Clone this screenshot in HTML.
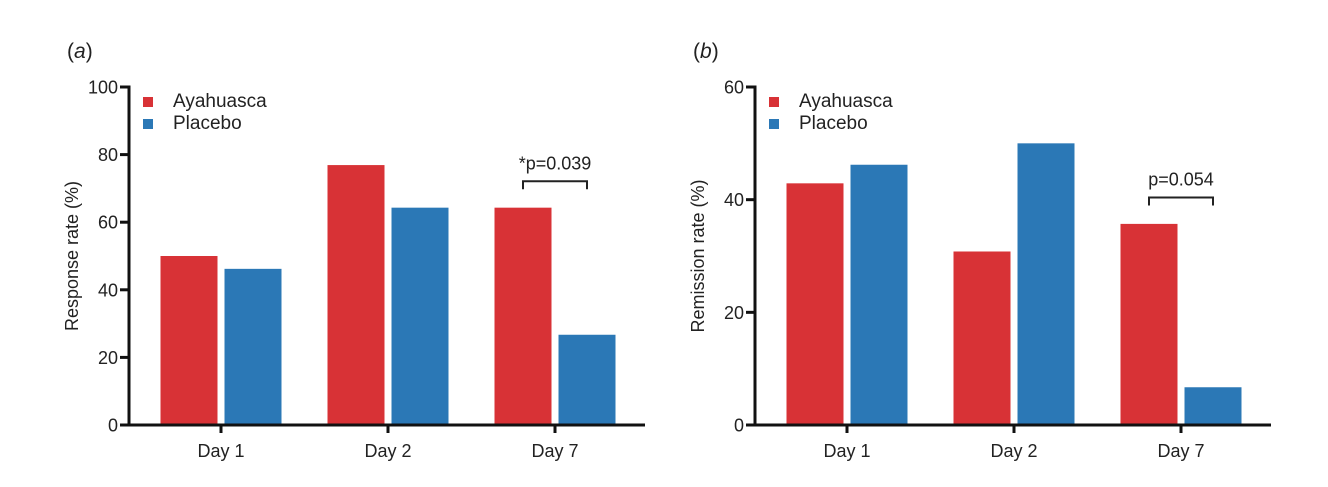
<!DOCTYPE html>
<html><head><meta charset="utf-8"><style>
html,body{margin:0;padding:0;background:#fff;}
svg text{font-family:"Liberation Sans",Arial,sans-serif;fill:#222;}
</style></head><body>
<svg width="1328" height="482" viewBox="0 0 1328 482" xmlns="http://www.w3.org/2000/svg">
<g id="pa"></g>
<g id="pb"></g>
</svg>
<script>
const categories = ["Day 1","Day 2","Day 7"];
const responseAyahuasca = [50, 76.9, 64.3];
const responsePlacebo = [46.2, 64.3, 26.7];
const remissionAyahuasca = [42.9, 30.8, 35.7];
const remissionPlacebo = [46.2, 50, 6.7];
const responseTicks = [0,20,40,60,80,100];
const remissionTicks = [0,20,40,60];
const seriesNames = ["Ayahuasca","Placebo"];

const NS="http://www.w3.org/2000/svg";
const RED="#d83236", BLUE="#2b78b6";
function mk(parent, tag, attrs, text){
  const e=document.createElementNS(NS,tag);
  for(const k in attrs) e.setAttribute(k,attrs[k]);
  if(text!==undefined) e.textContent=text;
  parent.appendChild(e); return e;
}
function panel(g, ox, label, title, ticks, a, b, pText, pFrac){
  const x0=ox, xEnd=ox+516, yTop=87, yBot=425, ymax=ticks[ticks.length-1];
  const y=v=>yBot-(v/ymax)*(yBot-yTop);
  const step=167, first=ox+92;
  const cx=i=>first+i*step;
  const bw=57, gap=7;
  let t=mk(g,'text',{x:ox-62,y:58,'font-size':21},'(');
  
  
  mk(t,'tspan',{'font-style':'italic'},label); mk(t,'tspan',{},')');
  // bars
  categories.forEach((c,i)=>{
    const r=mk(g,'rect',{x:cx(i)-gap/2-bw,y:y(a[i]),width:bw,height:yBot-y(a[i]),fill:RED});
    
    
    const s=mk(g,'rect',{x:cx(i)+gap/2,y:y(b[i]),width:bw,height:yBot-y(b[i]),fill:BLUE});
    
    
    const tk=mk(g,'line',{x1:cx(i),x2:cx(i),y1:yBot,y2:yBot+8,stroke:'#111','stroke-width':3});
    
    
    const tl=mk(g,'text',{x:cx(i),y:yBot+32,'font-size':18,'text-anchor':'middle'},c);
    
    
  });
  // axes
  const ya=mk(g,'line',{x1:x0,x2:x0,y1:yTop-1.5,y2:yBot+1.5,stroke:'#111','stroke-width':3});
   
  const xa=mk(g,'line',{x1:x0-8,x2:xEnd,y1:yBot,y2:yBot,stroke:'#111','stroke-width':3});
   
  ticks.forEach(v=>{
    const l=mk(g,'line',{x1:x0-9,x2:x0,y1:y(v),y2:y(v),stroke:'#111','stroke-width':3});
     
    const tt=mk(g,'text',{x:x0-11,y:y(v)+6.5,'font-size':18,'text-anchor':'end'},String(v));
     
  });
  const yt=mk(g,'text',{x:0,y:0,'font-size':18,'text-anchor':'middle',transform:`translate(${ox-51},${(yTop+yBot)/2}) rotate(-90)`},title);
   
  // legend
  [RED,BLUE].forEach((col,k)=>{
    const sq=mk(g,'rect',{x:ox+14,y:97+k*22,width:10,height:10,fill:col});
     
    const lt=mk(g,'text',{x:ox+44,y:107+k*22,'font-size':19},seriesNames[k]);
     
  });
  // significance bracket
  const i=2, bx1=cx(i)-gap/2-bw/2, bx2=cx(i)+gap/2+bw/2;
  const top=y(Math.max(a[i],b[i]))-(yBot-yTop)*pFrac;
  const br=mk(g,'path',{d:`M${bx1},${top+8}V${top}H${bx2}V${top+8}`,fill:'none',stroke:'#222','stroke-width':2});
   
  const pt=mk(g,'text',{x:(bx1+bx2)/2,y:top-12,'font-size':18,'text-anchor':'middle'},pText);
   
}
panel(document.getElementById('pa'),129,'a','Response rate (%)',responseTicks,responseAyahuasca,responsePlacebo,'*p=0.039',0.078);
panel(document.getElementById('pb'),755,'b','Remission rate (%)',remissionTicks,remissionAyahuasca,remissionPlacebo,'p=0.054',0.078);
</script>
</body></html>
